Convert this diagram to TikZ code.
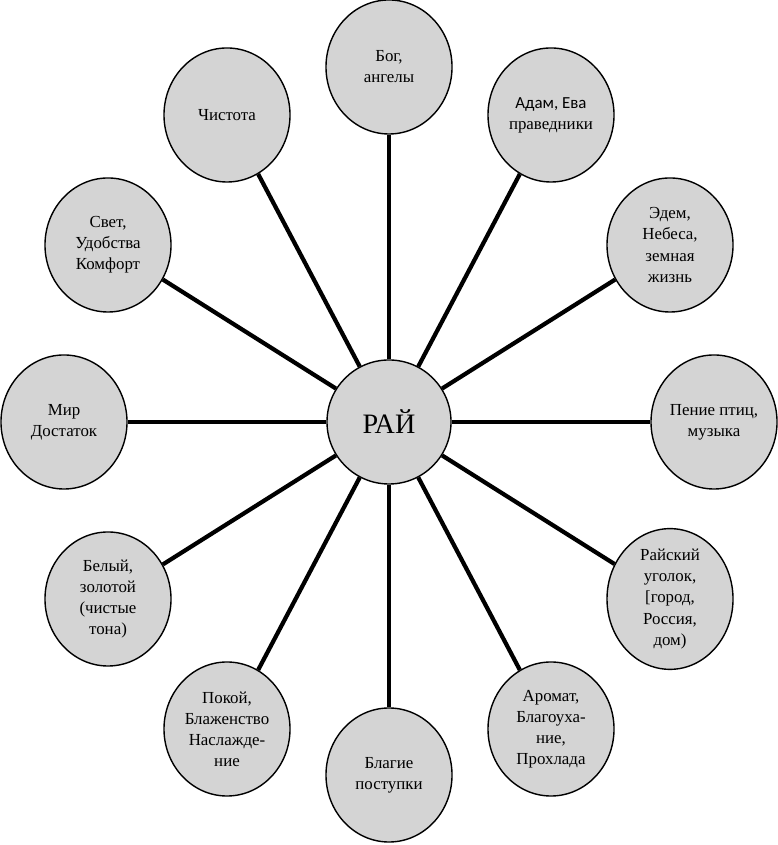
\documentclass[tikz,border=0pt]{standalone}
\usepackage{fontspec}
\setmainfont{Liberation Serif}
\newfontfamily\sansfnt{Carlito}
\usepackage{tikz}
\usetikzlibrary{shapes.geometric}
\definecolor{leafgray}{RGB}{212,212,212}

\begin{document}
\begin{tikzpicture}[x=0.025cm,y=0.025cm,
                    line width=3pt,
                    leaf node/.style={ellipse,draw,line width=1pt,fill=leafgray,
                      minimum width=3.15cm,minimum height=3.35cm,inner sep=0pt,
                      align=center,font=\fontsize{12}{15}\selectfont},
                    main node/.style={circle,draw,line width=1pt,fill=leafgray,
                      minimum size=3.1cm,inner sep=0pt,font=\fontsize{20}{24}\selectfont}]
  \useasboundingbox (0,0) rectangle (777,845);

  \node[main node] (rai) at (389,423) {РАЙ};

  \node[leaf node] (bog)    at (389,778)   {Бог,\\ангелы};
  \node[leaf node] (adam)   at (551,730)   {{\sansfnt Адам, Ева}\\праведники};
  \node[leaf node] (edem)   at (670,600)   {Эдем,\\Небеса,\\земная\\жизнь};
  \node[leaf node] (penie)  at (714,423)   {Пение птиц,\\музыка};
  \node[leaf node] (ugolok) at (670,246)   {Райский\\уголок,\\{[}город,\\Россия,\\дом)};
  \node[leaf node] (aromat) at (551,116)   {Аромат,\\Благоуха-\\ние,\\Прохлада};
  \node[leaf node] (blagie) at (389,70)    {Благие\\поступки};
  \node[leaf node] (pokoj)  at (227,116)   {Покой,\\Блаженство\\Наслажде-\\ние};
  \node[leaf node] (belyj)  at (108,246)   {Белый,\\золотой\\(чистые\\тона)};
  \node[leaf node] (mir)    at (64,423)    {Мир\\Достаток};
  \node[leaf node] (svet)   at (108,600)   {Свет,\\Удобства\\Комфорт};
  \node[leaf node] (chist)  at (227,730)   {Чистота};

  \path (rai) edge (bog)
              edge (adam)
              edge (edem)
              edge (penie)
              edge (ugolok)
              edge (aromat)
              edge (blagie)
              edge (pokoj)
              edge (belyj)
              edge (mir)
              edge (svet)
              edge (chist);
\end{tikzpicture}
\end{document}
